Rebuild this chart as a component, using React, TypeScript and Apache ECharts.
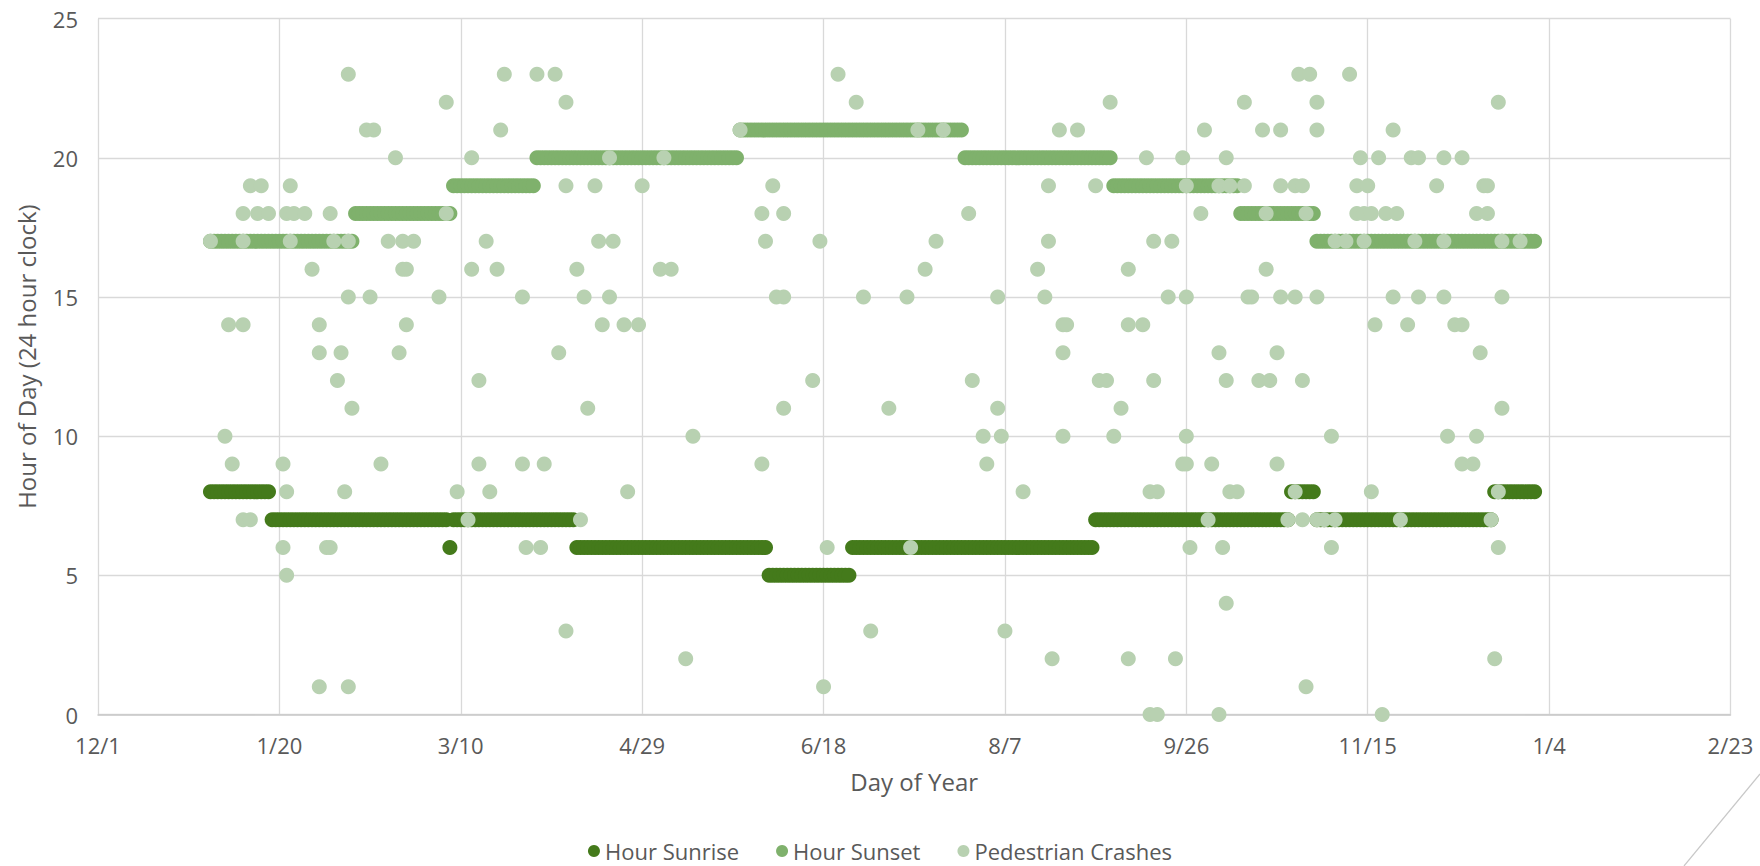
import React, { useEffect, useRef } from "react";
import * as echarts from "echarts";

// x axis: days counted from 12/1/2015; data day values are day-of-year 2016 (1 = Jan 1)
const AXIS_START = Date.UTC(2015, 11, 1);
const DOY_OFFSET = 30; // Jan 1 2016 is 31 days after 12/1/2015 -> doy + 30
const xMin = 0;
const xMax = 450;
const xInterval = 50;
const yMin = 0;
const yMax = 25;
const yInterval = 5;

const legendNames = ["Hour Sunrise", "Hour Sunset", "Pedestrian Crashes"];
const xTitle = "Day of Year";
const yTitle = "Hour of Day (24 hour clock)";

// [first day-of-year, last day-of-year, hour]
const sunriseRuns: [number, number, number][] = [
  [1, 17, 8],
  [18, 66, 7],
  [67, 67, 6],
  [68, 101, 7],
  [102, 154, 6],
  [155, 177, 5],
  [178, 244, 6],
  [245, 298, 7],
  [299, 305, 8],
  [306, 354, 7],
  [355, 366, 8],
];

const sunsetRuns: [number, number, number][] = [
  [1, 40, 17],
  [41, 67, 18],
  [68, 90, 19],
  [91, 146, 20],
  [147, 208, 21],
  [209, 249, 20],
  [250, 284, 19],
  [285, 305, 18],
  [306, 366, 17],
];

// [day-of-year, hour]
const crashes: [number, number][] = [
  [39, 23], [82, 23], [91, 23], [96, 23], [174, 23], [301, 23], [304, 23], [315, 23],
  [66, 22], [99, 22], [179, 22], [249, 22], [286, 22], [306, 22], [356, 22],
  [44, 21], [46, 21], [81, 21], [147, 21], [196, 21], [203, 21], [235, 21], [240, 21], [275, 21], [291, 21], [296, 21], [306, 21], [327, 21],
  [52, 20], [73, 20], [111, 20], [126, 20], [259, 20], [269, 20], [281, 20], [318, 20], [323, 20], [332, 20], [334, 20], [341, 20], [346, 20],
  [12, 19], [15, 19], [23, 19], [99, 19], [107, 19], [120, 19], [156, 19], [232, 19], [245, 19], [270, 19], [279, 19], [282, 19], [286, 19], [296, 19], [300, 19], [302, 19], [317, 19], [320, 19], [339, 19], [352, 19], [353, 19],
  [10, 18], [14, 18], [17, 18], [22, 18], [24, 18], [27, 18], [34, 18], [66, 18], [153, 18], [159, 18], [210, 18], [274, 18], [292, 18], [303, 18], [317, 18], [319, 18], [321, 18], [325, 18], [328, 18], [350, 18], [353, 18],
  [1, 17], [10, 17], [23, 17], [35, 17], [39, 17], [50, 17], [54, 17], [57, 17], [77, 17], [108, 17], [112, 17], [154, 17], [169, 17], [201, 17], [232, 17], [261, 17], [266, 17], [311, 17], [314, 17], [319, 17], [333, 17], [341, 17], [357, 17], [362, 17],
  [29, 16], [54, 16], [55, 16], [73, 16], [80, 16], [102, 16], [125, 16], [128, 16], [198, 16], [229, 16], [254, 16], [292, 16],
  [39, 15], [45, 15], [64, 15], [87, 15], [104, 15], [111, 15], [157, 15], [159, 15], [181, 15], [193, 15], [218, 15], [231, 15], [265, 15], [270, 15], [287, 15], [288, 15], [296, 15], [300, 15], [306, 15], [327, 15], [334, 15], [341, 15], [357, 15],
  [6, 14], [10, 14], [31, 14], [55, 14], [109, 14], [115, 14], [119, 14], [236, 14], [237, 14], [254, 14], [258, 14], [322, 14], [331, 14], [344, 14], [346, 14],
  [31, 13], [37, 13], [53, 13], [97, 13], [236, 13], [279, 13], [295, 13], [351, 13],
  [36, 12], [75, 12], [167, 12], [211, 12], [246, 12], [248, 12], [261, 12], [281, 12], [290, 12], [293, 12], [302, 12],
  [40, 11], [105, 11], [159, 11], [188, 11], [218, 11], [252, 11], [357, 11],
  [5, 10], [134, 10], [214, 10], [219, 10], [236, 10], [250, 10], [270, 10], [310, 10], [342, 10], [350, 10],
  [7, 9], [21, 9], [48, 9], [75, 9], [87, 9], [93, 9], [153, 9], [215, 9], [269, 9], [270, 9], [277, 9], [295, 9], [346, 9], [349, 9],
  [22, 8], [38, 8], [69, 8], [78, 8], [116, 8], [225, 8], [260, 8], [262, 8], [282, 8], [284, 8], [300, 8], [321, 8], [356, 8],
  [10, 7], [12, 7], [72, 7], [103, 7], [276, 7], [298, 7], [302, 7], [306, 7], [308, 7], [311, 7], [329, 7], [354, 7],
  [21, 6], [33, 6], [34, 6], [88, 6], [92, 6], [171, 6], [194, 6], [271, 6], [280, 6], [310, 6], [356, 6],
  [22, 5],
  [281, 4],
  [99, 3], [183, 3], [220, 3],
  [132, 2], [233, 2], [254, 2], [267, 2], [355, 2],
  [31, 1], [39, 1], [170, 1], [303, 1],
  [260, 0], [262, 0], [279, 0], [324, 0],
];

const colSunrise = "#447a1b";
const colSunset = "#7fb16c";
const colCrash = "#b8d1b1";
const textColor = "#595959";
const gridColor = "#d9d9d9";
const FONT = "'Open Sans', 'DejaVu Sans', sans-serif";

function expandRuns(runs: [number, number, number][]): [number, number][] {
  const out: [number, number][] = [];
  for (const [a, b, h] of runs) {
    for (let d = a; d <= b; d++) out.push([d + DOY_OFFSET, h]);
  }
  return out;
}

function dateLabel(v: number): string {
  const dt = new Date(AXIS_START + v * 86400000);
  return `${dt.getUTCMonth() + 1}/${dt.getUTCDate()}`;
}

export default function App() {
  const ref = useRef<HTMLDivElement>(null);
  useEffect(() => {
    if (!ref.current) return;
    const chart = echarts.init(ref.current, undefined, { renderer: "svg" });
    const crashPts = crashes.map(([d, h]) => [d + DOY_OFFSET, h]);
    chart.setOption({
      animation: false,
      backgroundColor: "#ffffff",
      textStyle: { fontFamily: FONT, color: textColor },
      grid: { left: 98, right: 29.5, top: 18.7, bottom: 151.5, containLabel: false },
      xAxis: {
        type: "value",
        min: xMin,
        max: xMax,
        interval: xInterval,
        name: xTitle,
        nameLocation: "middle",
        nameGap: 55,
        nameTextStyle: { fontSize: 24, color: textColor, fontFamily: FONT },
        axisLine: { show: true, lineStyle: { color: "#c8c8c8", width: 1.5 } },
        axisTick: { show: false },
        axisLabel: {
          fontSize: 22,
          color: textColor,
          margin: 19,
          fontFamily: FONT,
          formatter: (v: number) => dateLabel(v),
        },
        splitLine: { show: true, lineStyle: { color: gridColor, width: 1.3 } },
      },
      yAxis: {
        type: "value",
        min: yMin,
        max: yMax,
        interval: yInterval,
        name: yTitle,
        nameLocation: "middle",
        nameGap: 60,
        nameTextStyle: { fontSize: 24, color: textColor, fontFamily: FONT, padding: [0, 0, 0, 20] },
        axisLine: { show: false },
        axisTick: { show: false },
        axisLabel: { fontSize: 22, color: textColor, margin: 20, fontFamily: FONT },
        splitLine: { show: true, lineStyle: { color: gridColor, width: 1.3 } },
      },
      legend: {
        data: legendNames,
        left: "center",
        top: 840,
        padding: 0,
        icon: "circle",
        itemWidth: 12,
        itemHeight: 12,
        itemGap: 37,
        textStyle: { fontSize: 22, color: textColor, fontFamily: FONT },
      },
      graphic: [
        {
          type: "line",
          shape: { x1: 1760, y1: 774, x2: 1684, y2: 866 },
          style: { stroke: "#c8c8c8", lineWidth: 1.2 },
          silent: true,
        },
      ],
      series: [
        {
          name: legendNames[0],
          type: "scatter",
          symbol: "circle",
          symbolSize: 15,
          itemStyle: { color: colSunrise, opacity: 1 },
          data: expandRuns(sunriseRuns),
          z: 2,
        },
        {
          name: legendNames[1],
          type: "scatter",
          symbol: "circle",
          symbolSize: 15,
          itemStyle: { color: colSunset, opacity: 1 },
          data: expandRuns(sunsetRuns),
          z: 3,
        },
        {
          name: legendNames[2],
          type: "scatter",
          symbol: "circle",
          symbolSize: 15,
          itemStyle: { color: colCrash, opacity: 1 },
          data: crashPts,
          z: 4,
        },
      ],
    });
    return () => chart.dispose();
  }, []);
  return (
    <div
      ref={ref}
      style={{ position: "absolute", left: 0, top: 0, width: 1760, height: 866, background: "#fff" }}
    />
  );
}
